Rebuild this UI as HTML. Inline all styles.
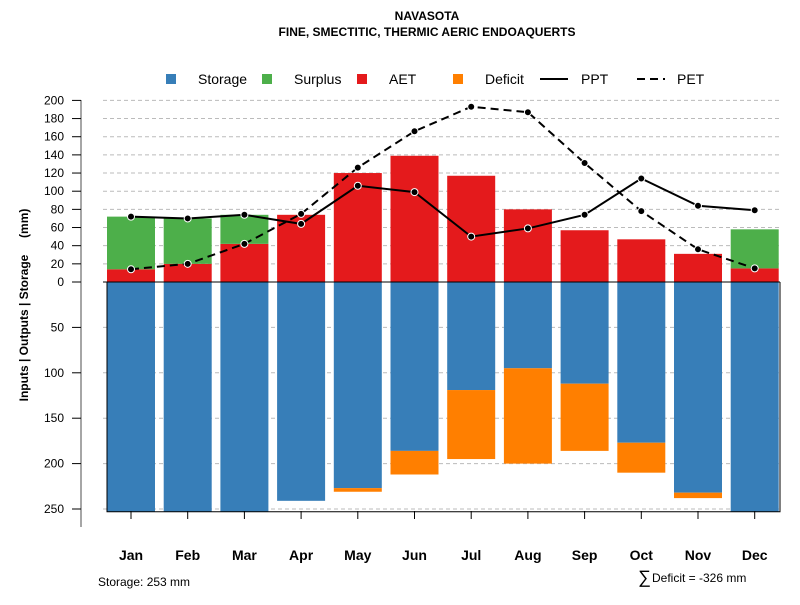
<!DOCTYPE html>
<html><head><meta charset="utf-8"><style>
body{margin:0;background:#fff;font-family:"Liberation Sans",sans-serif}
svg text{font-family:"Liberation Sans",sans-serif}
</style></head><body>
<svg id="c" width="800" height="600"></svg>
<script>
const months=["Jan","Feb","Mar","Apr","May","Jun","Jul","Aug","Sep","Oct","Nov","Dec"];
const storage=[253,253,253,241,227,186,119,95,112,177,232,253];
const deficit=[0,0,0,0,4,26,76,105,74,33,6,0];
const aet=[14,20,42,74,120,139,117,80,57,47,31,15];
const surplus=[58,50,32,0,0,0,0,0,0,0,0,43];
const ppt=[72,70,74,64,106,99,50,59,74,114,84,79];
const pet=[14,20,42,75,126,166,193,187,131,78,36,15];
const upTicks=[0,20,40,60,80,100,120,140,160,180,200];
const downTicks=[50,100,150,200,250];
const NS="http://www.w3.org/2000/svg",svg=document.getElementById('c');
function el(t,a,p){const e=document.createElementNS(NS,t);for(const k in a)e.setAttribute(k,a[k]);(p||svg).appendChild(e);return e;}
const y0=282,k=0.908;
const yU=v=>y0-v*k, yD=v=>y0+v*k;
const xC=i=>131+i*56.7, bw=48;
let t=el('text',{x:427,y:20,'text-anchor':'middle','font-size':12,'font-weight':'bold'});t.textContent='NAVASOTA';

t=el('text',{x:427,y:36,'text-anchor':'middle','font-size':12,'font-weight':'bold'});t.textContent='FINE, SMECTITIC, THERMIC AERIC ENDOAQUERTS';

upTicks.forEach(v=>{if(v>0){const l=el('line',{x1:103,x2:780,y1:yU(v),y2:yU(v),stroke:'#bbb','stroke-dasharray':'4,3'});}});
downTicks.forEach(v=>{const l=el('line',{x1:103,x2:780,y1:yD(v),y2:yD(v),stroke:'#bbb','stroke-dasharray':'4,3'});});
months.forEach((m,i)=>{
 const x=xC(i)-bw/2;
 let r=el('rect',{x:x,y:y0,width:bw,height:storage[i]*k,fill:'#377EB8'});
 if(deficit[i]>0){r=el('rect',{x:x,y:yD(storage[i]),width:bw,height:deficit[i]*k,fill:'#FF7F00'});}
 r=el('rect',{x:x,y:yU(aet[i]),width:bw,height:aet[i]*k,fill:'#E41A1C'});
 if(surplus[i]>0){r=el('rect',{x:x,y:yU(aet[i]+surplus[i]),width:bw,height:surplus[i]*k,fill:'#4DAF4A'});}
});
let b=el('polyline',{points:`107,282 107,${yD(253)} 780,${yD(253)} 780,282`,fill:'none',stroke:'#000','stroke-width':1});
b=el('line',{x1:103,x2:780,y1:y0,y2:y0,stroke:'#000'});
const lp=el('polyline',{points:ppt.map((v,i)=>xC(i)+','+yU(v)).join(' '),fill:'none',stroke:'#000','stroke-width':2});
const le=el('polyline',{points:pet.map((v,i)=>xC(i)+','+yU(v)).join(' '),fill:'none',stroke:'#000','stroke-width':2,'stroke-dasharray':'8,5'});
[ppt,pet].forEach((s,j)=>s.forEach((v,i)=>{const c=el('circle',{cx:xC(i),cy:yU(v),r:3.5,fill:'#000',stroke:'#fff','stroke-width':1});}));
b=el('line',{x1:81,x2:81,y1:100,y2:527,stroke:'#888','stroke-width':1.5});
upTicks.forEach(v=>{el('line',{x1:72,x2:81,y1:yU(v),y2:yU(v),stroke:'#000'});const tt=el('text',{x:64,y:yU(v)+4,'text-anchor':'end','font-size':12});tt.textContent=v;});
downTicks.forEach(v=>{el('line',{x1:72,x2:81,y1:yD(v),y2:yD(v),stroke:'#000'});const tt=el('text',{x:64,y:yD(v)+4,'text-anchor':'end','font-size':12});tt.textContent=v;});
t=el('text',{transform:'translate(28,305) rotate(-90)','text-anchor':'middle','font-size':12,'font-weight':'bold',style:'white-space:pre'});t.textContent='Inputs | Outputs | Storage     (mm)';
months.forEach((m,i)=>{el('line',{x1:xC(i),x2:xC(i),y1:511,y2:519,stroke:'#000'});const tt=el('text',{x:xC(i),y:560,'text-anchor':'middle','font-size':14,'font-weight':'bold'});tt.textContent=m;});
t=el('text',{x:98,y:586,'font-size':12});t.textContent='Storage: 253 mm';
t=el('text',{x:638,y:583,'font-size':18});t.textContent='∑';
t=el('text',{x:652,y:582,'font-size':12});t.textContent='Deficit = -326 mm';
const leg=[["Storage","#377EB8",171,198],["Surplus","#4DAF4A",267,294],["AET","#E41A1C",362,389],["Deficit","#FF7F00",458,485]];
leg.forEach(d=>{const r=el('rect',{x:d[2]-5,y:74,width:10,height:10,fill:d[1]});const tt=el('text',{x:d[3],y:84,'font-size':14});tt.textContent=d[0];});
el('line',{x1:540,x2:568,y1:79,y2:79,stroke:'#000','stroke-width':2});
t=el('text',{x:581,y:84,'font-size':14});t.textContent='PPT';
el('line',{x1:637,x2:665,y1:79,y2:79,stroke:'#000','stroke-width':2,'stroke-dasharray':'8,5'});
t=el('text',{x:677,y:84,'font-size':14});t.textContent='PET';
</script>
</body></html>
